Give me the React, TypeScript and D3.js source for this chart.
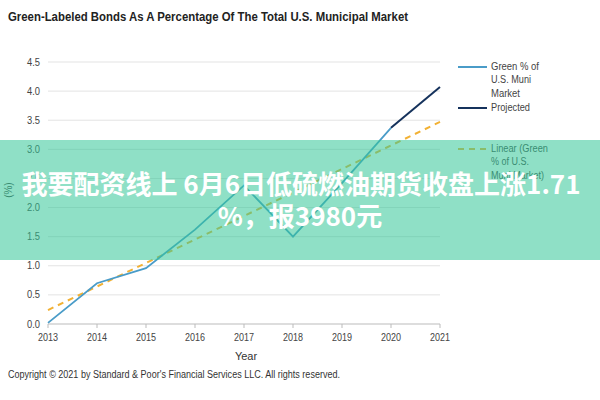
import React from "react";
import * as d3 from "d3";

const years = [2013, 2014, 2015, 2016, 2017, 2018, 2019, 2020, 2021];
const greenShare = [0.02, 0.7, 0.96, 1.62, 2.38, 1.5, 2.42, 3.37];
const projectedYears = [2020, 2021];
const projected = [3.37, 4.07];
const linearYears = [2013, 2021];
const linear = [0.24, 3.47];
const yTicks = [0, 0.5, 1, 1.5, 2, 2.5, 3, 3.5, 4, 4.5];

const FONT = "'Liberation Sans', Arial, sans-serif";

export default function App() {
  const W = 600, H = 400;
  const x = d3.scaleLinear().domain([2013, 2021]).range([48, 440]);
  const y = d3.scaleLinear().domain([0, 4.5]).range([324, 62]);
  const line = d3.line<[number, number]>().x(d => x(d[0])).y(d => y(d[1]));
  const greenPts: [number, number][] = greenShare.map((v, i) => [years[i], v]);
  const projPts: [number, number][] = projected.map((v, i) => [projectedYears[i], v]);
  const linPts: [number, number][] = linear.map((v, i) => [linearYears[i], v]);

  return (
    <svg width={W} height={H} style={{ position: "absolute", left: 0, top: 0, background: "#fff" }} fontFamily={FONT}>
      <rect width={W} height={H} fill="#fff" />
      <text x={8} y={21} fontSize={13} fontWeight="bold" fill="#222" textLength={400} lengthAdjust="spacingAndGlyphs">
        Green-Labeled Bonds As A Percentage Of The Total U.S. Municipal Market
      </text>
      {yTicks.map(t => (
        <g key={t}>
          {t > 0 && <line x1={x(2013)} x2={x(2021)} y1={y(t)} y2={y(t)} stroke="#e3e3e3" strokeWidth={1} />}
          <text x={40} y={y(t) + 3.5} fontSize={10} fill="#444" textAnchor="end" textLength={13} lengthAdjust="spacingAndGlyphs">{t.toFixed(1)}</text>
        </g>
      ))}
      <line x1={x(2013)} x2={x(2021)} y1={y(0)} y2={y(0)} stroke="#bbb" />
      {years.map(yr => (
        <g key={yr}>
          <line x1={x(yr)} x2={x(yr)} y1={y(0)} y2={y(0) + 4} stroke="#bbb" />
          <text x={x(yr)} y={y(0) + 17} fontSize={10} fill="#444" textAnchor="middle" textLength={20} lengthAdjust="spacingAndGlyphs">{yr}</text>
        </g>
      ))}
      <text x={246} y={360} fontSize={11} fill="#333" textAnchor="middle">Year</text>
      <text transform={`translate(12,${y(2.3)}) rotate(-90)`} fontSize={10} fill="#444" textAnchor="middle">(%)</text>

      <path d={line(linPts) || ""} fill="none" stroke="#f2b134" strokeWidth={2} strokeDasharray="6,5" />
      <path d={line(greenPts) || ""} fill="none" stroke="#4a9cc8" strokeWidth={1.8} />
      <path d={line(projPts) || ""} fill="none" stroke="#15325c" strokeWidth={2} />

      <g fontSize={10} fill="#444">
        <line x1={458} x2={487} y1={67} y2={67} stroke="#4a9cc8" strokeWidth={2} />
        <text x={491} y={70} textLength={48} lengthAdjust="spacingAndGlyphs">Green % of</text>
        <text x={491} y={83} textLength={40} lengthAdjust="spacingAndGlyphs">U.S. Muni</text>
        <text x={491} y={97} textLength={29} lengthAdjust="spacingAndGlyphs">Market</text>
        <line x1={458} x2={487} y1={108} y2={108} stroke="#15325c" strokeWidth={2} />
        <text x={491} y={111} textLength={39} lengthAdjust="spacingAndGlyphs">Projected</text>
        <line x1={458} x2={487} y1={149} y2={149} stroke="#f2b134" strokeWidth={2} strokeDasharray="6,5" />
        <text x={491} y={152} textLength={57} lengthAdjust="spacingAndGlyphs">Linear (Green</text>
        <text x={491} y={165} textLength={38} lengthAdjust="spacingAndGlyphs">% of U.S.</text>
        <text x={491} y={179} textLength={53} lengthAdjust="spacingAndGlyphs">Muni Market)</text>
      </g>

      <text x={8} y={378} fontSize={10} fill="#333" textLength={332} lengthAdjust="spacingAndGlyphs">
        Copyright © 2021 by Standard &amp; Poor's Financial Services LLC. All rights reserved.
      </text>

      <rect x={0} y={140} width={W} height={120} fill="rgb(51,199,151)" fillOpacity={0.55} />
      <g fontFamily="'Noto Sans CJK SC', sans-serif" fontWeight="bold" fill="#fff" fontSize={26} textAnchor="middle">
        <text x={301} y={194}>我要配资线上 6月6日低硫燃油期货收盘上涨1.71</text>
        <text x={300} y={226}>%，报3980元</text>
      </g>
    </svg>
  );
}
